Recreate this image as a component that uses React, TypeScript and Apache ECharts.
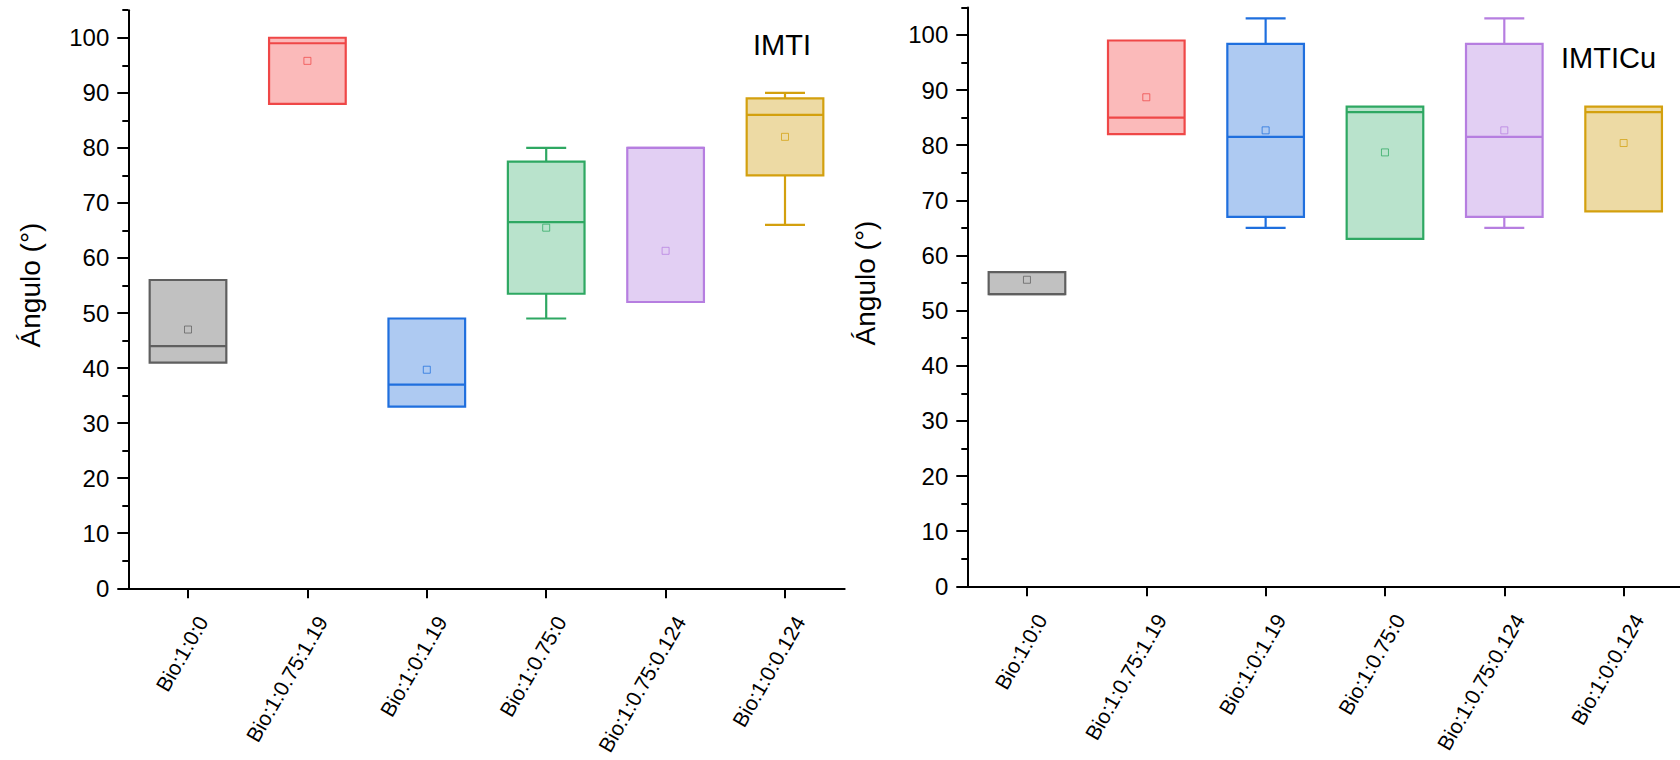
import React, { useEffect, useRef } from "react";
import * as echarts from "echarts";

// Sample groups shown on both panels
const categories = [
  "Bio:1:0:0",
  "Bio:1:0.75:1.19",
  "Bio:1:0:1.19",
  "Bio:1:0.75:0",
  "Bio:1:0.75:0.124",
  "Bio:1:0:0.124",
];

// IMTI panel: whisker ends, quartiles, median and mean (degrees)
const imtiMin = [41, 88, 33, 49, 52, 66];
const imtiQ1 = [41, 88, 33, 53.5, 52, 75];
const imtiMedian = [44, 99, 37, 66.5, 80, 86];
const imtiQ3 = [56, 100, 49, 77.5, 80, 89];
const imtiMax = [56, 100, 49, 80, 80, 90];
const imtiMean = [47, 95.8, 39.7, 65.5, 61.3, 82];

// IMTICu panel
const cuMin = [53, 82, 65, 63, 65, 68];
const cuQ1 = [53, 82, 67, 63, 67, 68];
const cuMedian = [53, 85, 81.5, 86, 81.5, 86];
const cuQ3 = [57, 99, 98.4, 87, 98.4, 87];
const cuMax = [57, 99, 103, 87, 103, 87];
const cuMean = [55.6, 88.7, 82.7, 78.7, 82.7, 80.4];

// Y axis ticks
const yMajor = [0, 10, 20, 30, 40, 50, 60, 70, 80, 90, 100];
const yMinor = [5, 15, 25, 35, 45, 55, 65, 75, 85, 95, 105];

const strokeColors = ["#5f5f5f", "#ef4747", "#1f6fde", "#2ea862", "#b67ee0", "#d3a00e"];
const fillColors = ["#c1c1c1", "#fbbaba", "#aecaf2", "#b9e3cc", "#e2cff3", "#eddaa4"];

const FONT = '"Liberation Sans", Arial, Helvetica, sans-serif';

function buildRows(
  mins: number[],
  q1s: number[],
  meds: number[],
  q3s: number[],
  maxs: number[],
  means: number[]
) {
  return categories.map((_, i) => [i, mins[i], q1s[i], meds[i], q3s[i], maxs[i], means[i]]);
}

const renderBox = (params: any, api: any) => {
  const idx = api.value(0);
  const cx = api.coord([idx, 0])[0];
  const py = (k: number) => api.coord([idx, api.value(k)])[1];
  const band = api.size([1, 0])[0];
  const boxW = band * 0.642;
  const capW = band * 0.335;
  const stroke = strokeColors[params.dataIndex];
  const fill = fillColors[params.dataIndex];
  const yMin = py(1);
  const yQ1 = py(2);
  const yMed = py(3);
  const yQ3 = py(4);
  const yMax = py(5);
  const yMean = py(6);
  const lineStyle = { stroke, lineWidth: 2.2 };
  const children: any[] = [];
  if (api.value(5) > api.value(4)) {
    children.push(
      { type: "line", shape: { x1: cx, y1: yQ3, x2: cx, y2: yMax }, style: lineStyle },
      { type: "line", shape: { x1: cx - capW / 2, y1: yMax, x2: cx + capW / 2, y2: yMax }, style: lineStyle }
    );
  }
  if (api.value(1) < api.value(2)) {
    children.push(
      { type: "line", shape: { x1: cx, y1: yQ1, x2: cx, y2: yMin }, style: lineStyle },
      { type: "line", shape: { x1: cx - capW / 2, y1: yMin, x2: cx + capW / 2, y2: yMin }, style: lineStyle }
    );
  }
  children.push(
    {
      type: "rect",
      shape: { x: cx - boxW / 2, y: yQ3, width: boxW, height: yQ1 - yQ3 },
      style: { fill, stroke, lineWidth: 2.2 },
    },
    { type: "line", shape: { x1: cx - boxW / 2, y1: yMed, x2: cx + boxW / 2, y2: yMed }, style: lineStyle },
    {
      type: "rect",
      shape: { x: cx - 3.5, y: yMean - 3.5, width: 7, height: 7 },
      style: { fill: "none", stroke, lineWidth: 1, opacity: 0.75 },
    }
  );
  return { type: "group", children };
};

const axisLineStyle = { color: "#000", width: 2 };

function xAxisFor(gridIndex: number) {
  return {
    type: "category",
    gridIndex,
    data: categories,
    boundaryGap: true,
    axisLine: { show: true, onZero: false, lineStyle: axisLineStyle },
    axisTick: { show: true, alignWithLabel: true, length: 10, lineStyle: axisLineStyle },
    axisLabel: {
      interval: 0,
      rotate: 60,
      fontSize: 21,
      fontFamily: FONT,
      color: "#000",
      margin: 21,
      align: "right",
      verticalAlign: "top",
      lineHeight: 20,
      padding: [7, 0, 0, 0],
    },
    splitLine: { show: false },
  };
}

function yAxesFor(gridIndex: number) {
  return [
    {
      type: "value",
      gridIndex,
      min: 0,
      max: 105,
      position: "left",
      axisLine: { show: true, lineStyle: axisLineStyle },
      axisTick: { show: true, length: 11, customValues: yMajor, lineStyle: axisLineStyle },
      axisLabel: {
        customValues: yMajor,
        fontSize: 24,
        fontFamily: FONT,
        color: "#000",
        margin: 19,
      },
      splitLine: { show: false },
    },
    {
      type: "value",
      gridIndex,
      min: 0,
      max: 105,
      position: "left",
      axisLine: { show: false },
      axisTick: { show: true, length: 6, customValues: yMinor, lineStyle: axisLineStyle },
      axisLabel: { show: false },
      splitLine: { show: false },
    },
  ];
}

export default function App() {
  const ref = useRef<HTMLDivElement>(null);

  useEffect(() => {
    if (!ref.current) return;
    const chart = echarts.init(ref.current, null, { renderer: "svg" });
    chart.setOption({
      animation: false,
      backgroundColor: "#fff",
      textStyle: { fontFamily: FONT },
      grid: [
        { left: 128.3, top: 10.2, width: 716.4, height: 578.1, outerBoundsMode: "none", containLabel: false },
        { left: 967.3, top: 7.4, width: 716, height: 578.9, outerBoundsMode: "none", containLabel: false },
      ],
      xAxis: [xAxisFor(0), xAxisFor(1)],
      yAxis: [...yAxesFor(0), ...yAxesFor(1)],
      series: [
        {
          type: "custom",
          name: "IMTI",
          xAxisIndex: 0,
          yAxisIndex: 0,
          renderItem: renderBox,
          encode: { x: 0, y: [1, 2, 3, 4, 5, 6] },
          data: buildRows(imtiMin, imtiQ1, imtiMedian, imtiQ3, imtiMax, imtiMean),
          clip: false,
        },
        {
          type: "custom",
          name: "IMTICu",
          xAxisIndex: 1,
          yAxisIndex: 2,
          renderItem: renderBox,
          encode: { x: 0, y: [1, 2, 3, 4, 5, 6] },
          data: buildRows(cuMin, cuQ1, cuMedian, cuQ3, cuMax, cuMean),
          clip: false,
        },
      ],
      graphic: [
        {
          type: "text",
          x: 30,
          y: 285,
          rotation: Math.PI / 2,
          style: {
            text: "Ángulo (°)",
            fontSize: 28,
            fontFamily: FONT,
            fill: "#000",
            align: "center",
            verticalAlign: "middle",
          },
        },
        {
          type: "text",
          x: 865,
          y: 283,
          rotation: Math.PI / 2,
          style: {
            text: "Ángulo (°)",
            fontSize: 28,
            fontFamily: FONT,
            fill: "#000",
            align: "center",
            verticalAlign: "middle",
          },
        },
        {
          type: "text",
          x: 753,
          y: 45,
          style: {
            text: "IMTI",
            fontSize: 29,
            fontFamily: FONT,
            fill: "#000",
            align: "left",
            verticalAlign: "middle",
          },
        },
        {
          type: "text",
          x: 1561,
          y: 58,
          style: {
            text: "IMTICu",
            fontSize: 29,
            fontFamily: FONT,
            fill: "#000",
            align: "left",
            verticalAlign: "middle",
          },
        },
      ],
    });
    return () => chart.dispose();
  }, []);

  return (
    <div
      ref={ref}
      style={{ position: "absolute", left: 0, top: 0, width: 1680, height: 760, background: "#fff" }}
    />
  );
}
